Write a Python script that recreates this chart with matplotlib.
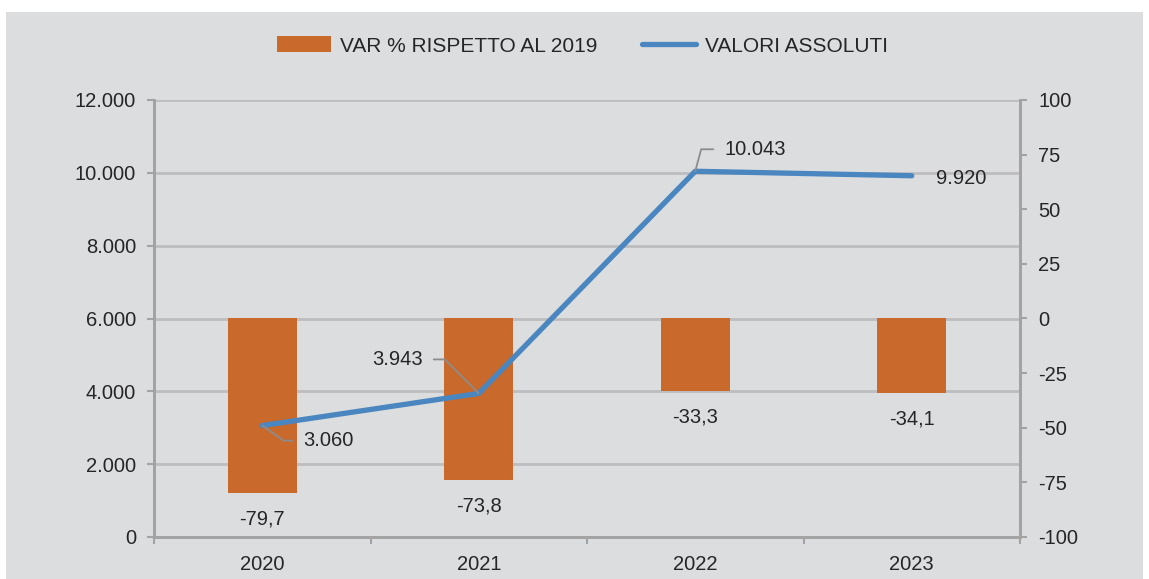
import matplotlib.pyplot as plt
from matplotlib.patches import Rectangle
from matplotlib.lines import Line2D
from matplotlib.patches import Patch

plt.rcParams['font.family'] = ['Liberation Sans', 'DejaVu Sans']
plt.rcParams['axes.unicode_minus'] = False

anni = ['2020', '2021', '2022', '2023']
var_pct = [-79.7, -73.8, -33.3, -34.1]
valori = [3060, 3943, 10043, 9920]
var_labels = ['-79,7', '-73,8', '-33,3', '-34,1']
val_labels = ['3.060', '3.943', '10.043', '9.920']
left_ticks = [0, 2000, 4000, 6000, 8000, 10000, 12000]
left_ticklabels = ['0', '2.000', '4.000', '6.000', '8.000', '10.000', '12.000']
right_ticks = [-100, -75, -50, -25, 0, 25, 50, 75, 100]

bg = '#dcdddf'
grid_c = '#bdbdbf'
axis_c = '#a3a3a3'
txt_c = '#262626'
orange = '#c9692b'
blue = '#4a86bf'
fs = 14.5

fig = plt.figure(figsize=(11.49, 5.79), dpi=100)
fig.patch.set_facecolor('white')
fig.patches.append(Rectangle((6 / 1149, 0), 1137 / 1149, 1 - 12 / 579,
                             transform=fig.transFigure, facecolor=bg,
                             edgecolor='none', zorder=-5))

pos = [154 / 1149, 1 - 537 / 579, 866 / 1149, 437 / 579]
ax = fig.add_axes(pos)
ax.set_facecolor(bg)
ax.set_xlim(-0.5, 3.5)
ax.set_ylim(0, 12000)
ax.set_yticks(left_ticks)
ax.set_yticklabels(left_ticklabels)
for v in left_ticks[1:]:
    ax.axhline(v, color=grid_c, lw=2, zorder=0)

# barre sulla scala destra
ax2 = ax.twinx()
ax2.set_ylim(-100, 100)
ax2.set_yticks(right_ticks)
x = list(range(len(anni)))
ax2.bar(x, var_pct, width=0.32, color=orange, zorder=2)
for xi, v, lab in zip(x, var_pct, var_labels):
    ax2.annotate(lab, (xi, v), xytext=(0, -26), textcoords='offset pixels',
                 ha='center', va='center', fontsize=fs, color=txt_c)

# linea sulla scala sinistra
ax3 = ax.twinx()
ax3.set_ylim(0, 12000)
ax3.set_xlim(-0.5, 3.5)
ax3.axis('off')
ax3.plot(x, valori, color=blue, lw=3.8, solid_capstyle='round',
         solid_joinstyle='round', zorder=3)

leader = dict(arrowstyle='-', color='#8c8c8c', lw=1.3, shrinkA=0, shrinkB=0)
offsets = [(41, -15, 'left', dict(connectionstyle='angle,angleA=0,angleB=-35,rad=0')),
           (-56, 34, 'right', dict(connectionstyle='angle,angleA=0,angleB=135,rad=0')),
           (29, 22, 'left', dict(connectionstyle='angle,angleA=0,angleB=75,rad=0')),
           (24, -3, 'left', None)]
for xi, v, lab, (dx, dy, ha, cs) in zip(x, valori, val_labels, offsets):
    ax3.annotate(lab, (xi, v), xytext=(dx, dy), textcoords='offset pixels',
                 ha=ha, va='center', fontsize=fs, color=txt_c)
    if cs is not None:
        props = dict(leader, **cs)
        pad = -11 if ha == 'left' else 11
        ax3.annotate('', (xi, v), xytext=(dx + pad, dy), textcoords='offset pixels',
                     arrowprops=props)

ax.set_xticks(x)
ax.set_xticklabels(anni)
ax.set_xticks([-0.5, 0.5, 1.5, 2.5, 3.5], minor=True)
ax.tick_params(axis='x', which='major', length=0, pad=13, labelsize=fs, labelcolor=txt_c)
ax.tick_params(axis='x', which='minor', length=5, width=1.5, color=axis_c)
ax.tick_params(axis='y', length=5, width=1.5, color=axis_c, labelsize=fs,
               labelcolor=txt_c, pad=8)
ax2.tick_params(axis='y', length=5, width=1.5, color=axis_c, labelsize=fs,
                labelcolor=txt_c, pad=8)

for a in (ax, ax2):
    a.spines['top'].set_visible(False)
    for s in ('left', 'right', 'bottom'):
        a.spines[s].set_color(axis_c)
        a.spines[s].set_linewidth(2)

handles = [Patch(facecolor=orange, edgecolor='none'),
           Line2D([0], [0], color=blue, lw=3.8, solid_capstyle='round')]
fig.legend(handles, ['VAR % RISPETTO AL 2019', 'VALORI ASSOLUTI'], loc='center',
           bbox_to_anchor=(0.507, 1 - 46 / 579), ncol=2, frameon=False,
           fontsize=15, handlelength=2.6, handleheight=0.8, handletextpad=0.45,
           columnspacing=2.1, labelcolor=txt_c)

fig.savefig('out.png', dpi=100, facecolor=fig.get_facecolor())
